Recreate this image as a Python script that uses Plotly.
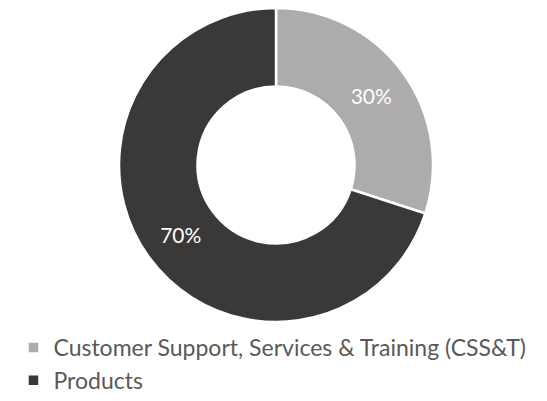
import plotly.graph_objects as go

labels = ["Customer Support, Services & Training (CSS&T)", "Products"]
values = [30, 70]
colors = ["#AEABAB", "#3B3838"]

fig = go.Figure(
    go.Pie(
        labels=labels,
        values=values,
        hole=0.5,
        sort=False,
        direction="clockwise",
        rotation=0,
        marker=dict(colors=colors, line=dict(color="#ffffff", width=2.5)),
        texttemplate="%{percent:.0%}",
        textposition="inside",
        insidetextorientation="horizontal",
        textfont=dict(color="#ffffff", size=21),
        domain=dict(x=[0.198, 0.782], y=[0.217, 1.0]),
    )
)

fig.update_layout(
    width=547,
    height=401,
    margin=dict(l=0, r=0, t=0, b=0),
    paper_bgcolor="#ffffff",
    plot_bgcolor="#ffffff",
    font=dict(family="Lato, sans-serif", color="#595959", size=23),
    legend=dict(
        orientation="v",
        x=0.01,
        xanchor="left",
        y=0.207,
        yanchor="top",
        font=dict(size=23, color="#595959"),
        bgcolor="rgba(0,0,0,0)",
    ),
)

fig.write_html("out.html")
